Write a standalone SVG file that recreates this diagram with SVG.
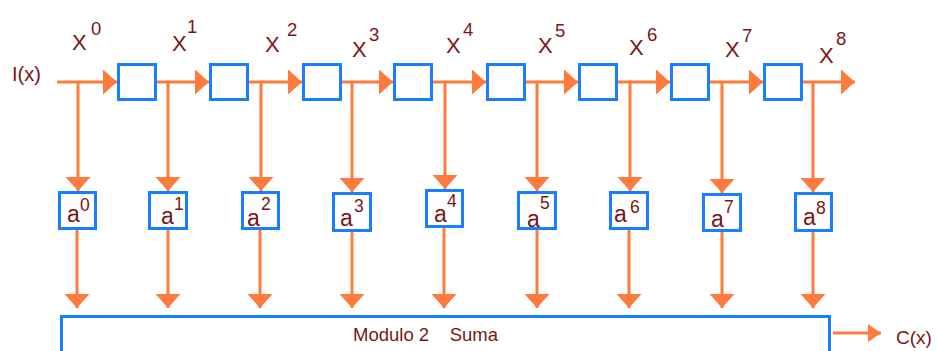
<svg xmlns="http://www.w3.org/2000/svg" width="937" height="351" viewBox="0 0 937 351">
<style>
.bx{fill:#fff;stroke:#1A7FFF;stroke-width:3}
.ln{stroke:#FF7A3D;stroke-width:3;fill:none}
.ar{marker-end:url(#ah)}
.t{font-family:"Liberation Sans",Arial,sans-serif;fill:#7A1616}
.X{font-size:22px}
.s{font-size:18.5px}
.a{font-size:23px}
.sa{font-size:17.5px}
</style>
<defs>
<marker id="ah" markerUnits="userSpaceOnUse" markerWidth="14" markerHeight="25" refX="14" refY="12.5" orient="auto">
<path d="M0,0 L14,12.5 L0,25 Z" fill="#FF7A3D"/>
</marker>
<marker id="ah2" markerUnits="userSpaceOnUse" markerWidth="13" markerHeight="18" refX="13" refY="9" orient="auto">
<path d="M0,0 L13,9 L0,18 Z" fill="#FF7A3D"/>
</marker>
</defs>
<rect width="937" height="351" fill="#fff"/>
<g id="connectors">
<line class="ln ar" x1="57" y1="82" x2="117" y2="82"/>
<line class="ln ar" x1="157" y1="82" x2="209" y2="82"/>
<line class="ln ar" x1="249" y1="82" x2="302" y2="82"/>
<line class="ln ar" x1="342" y1="82" x2="393" y2="82"/>
<line class="ln ar" x1="433" y1="82" x2="486" y2="82"/>
<line class="ln ar" x1="525" y1="82" x2="578" y2="82"/>
<line class="ln ar" x1="618" y1="82" x2="670" y2="82"/>
<line class="ln ar" x1="710" y1="82" x2="763" y2="82"/>
<line class="ln ar" x1="802" y1="82" x2="855" y2="82"/>
<line class="ln ar" x1="78" y1="82" x2="78" y2="191"/>
<line class="ln ar" x1="168" y1="82" x2="168" y2="191"/>
<line class="ln ar" x1="261" y1="82" x2="261" y2="191"/>
<line class="ln ar" x1="352" y1="82" x2="352" y2="192"/>
<line class="ln ar" x1="445" y1="82" x2="445" y2="189"/>
<line class="ln ar" x1="537" y1="82" x2="537" y2="191"/>
<line class="ln ar" x1="630" y1="82" x2="630" y2="191"/>
<line class="ln ar" x1="722" y1="82" x2="722" y2="193"/>
<line class="ln ar" x1="813" y1="82" x2="813" y2="192"/>
<line class="ln ar" x1="77" y1="230" x2="77" y2="308"/>
<line class="ln ar" x1="168" y1="230" x2="168" y2="308"/>
<line class="ln ar" x1="260" y1="230" x2="260" y2="308"/>
<line class="ln ar" x1="352" y1="232" x2="352" y2="308"/>
<line class="ln ar" x1="444" y1="228" x2="444" y2="308"/>
<line class="ln ar" x1="537" y1="230" x2="537" y2="308"/>
<line class="ln ar" x1="629" y1="230" x2="629" y2="308"/>
<line class="ln ar" x1="722" y1="232" x2="722" y2="308"/>
<line class="ln ar" x1="813" y1="232" x2="813" y2="308"/>
<line class="ln" x1="833" y1="333" x2="881" y2="333" marker-end="url(#ah2)"/>
</g>
<g id="input"><text class="t" x="12" y="81" font-size="20">I(x)</text></g>
<g id="r1"><rect class="bx" x="118.5" y="64.5" width="37" height="35"/></g>
<g id="r2"><rect class="bx" x="210.5" y="64.5" width="37" height="35"/></g>
<g id="r3"><rect class="bx" x="303.5" y="64.5" width="37" height="35"/></g>
<g id="r4"><rect class="bx" x="394.5" y="64.5" width="37" height="35"/></g>
<g id="r5"><rect class="bx" x="487.5" y="64.5" width="37" height="35"/></g>
<g id="r6"><rect class="bx" x="579.5" y="64.5" width="37" height="35"/></g>
<g id="r7"><rect class="bx" x="671.5" y="64.5" width="37" height="35"/></g>
<g id="r8"><rect class="bx" x="764.5" y="64.5" width="37" height="35"/></g>
<g id="taps">
<text class="t X" x="72" y="50">X<tspan class="s" x="91" y="35">0</tspan></text>
<text class="t X" x="172" y="51">X<tspan class="s" x="187" y="33">1</tspan></text>
<text class="t X" x="265" y="52">X<tspan class="s" x="287" y="36">2</tspan></text>
<text class="t X" x="352" y="57">X<tspan class="s" x="369" y="41">3</tspan></text>
<text class="t X" x="446" y="53">X<tspan class="s" x="463" y="36">4</tspan></text>
<text class="t X" x="538" y="53">X<tspan class="s" x="555" y="37">5</tspan></text>
<text class="t X" x="629" y="55">X<tspan class="s" x="647" y="41">6</tspan></text>
<text class="t X" x="725" y="57">X<tspan class="s" x="742" y="42">7</tspan></text>
<text class="t X" x="819" y="63">X<tspan class="s" x="836" y="45">8</tspan></text>
</g>
<g id="a0"><rect class="bx" x="59.5" y="192.5" width="36" height="36"/><text class="t a" x="67" y="222">a<tspan class="sa" x="80" y="211">0</tspan></text></g>
<g id="a1"><rect class="bx" x="149.5" y="192.5" width="37" height="36"/><text class="t a" x="161" y="224">a<tspan class="sa" x="174" y="210">1</tspan></text></g>
<g id="a2"><rect class="bx" x="242.5" y="192.5" width="36" height="36"/><text class="t a" x="247" y="226">a<tspan class="sa" x="261" y="210">2</tspan></text></g>
<g id="a3"><rect class="bx" x="333.5" y="193.5" width="37" height="37"/><text class="t a" x="340" y="226">a<tspan class="sa" x="354" y="212">3</tspan></text></g>
<g id="a4"><rect class="bx" x="426.5" y="190.5" width="36" height="36"/><text class="t a" x="434" y="222">a<tspan class="sa" x="447" y="207">4</tspan></text></g>
<g id="a5"><rect class="bx" x="518.5" y="192.5" width="37" height="36"/><text class="t a" x="527" y="227">a<tspan class="sa" x="540" y="209">5</tspan></text></g>
<g id="a6"><rect class="bx" x="610.5" y="192.5" width="37" height="36"/><text class="t a" x="614" y="222">a<tspan class="sa" x="630" y="213">6</tspan></text></g>
<g id="a7"><rect class="bx" x="703.5" y="194.5" width="37" height="36"/><text class="t a" x="711" y="227">a<tspan class="sa" x="724" y="213">7</tspan></text></g>
<g id="a8"><rect class="bx" x="795.5" y="193.5" width="36" height="37"/><text class="t a" x="803" y="225">a<tspan class="sa" x="816" y="214">8</tspan></text></g>
<g id="sum"><rect class="bx" x="61.5" y="316.5" width="768" height="50"/><text class="t" x="353" y="341" font-size="18.5" xml:space="preserve" style="white-space:pre">Modulo 2    Suma</text></g>
<g id="output"><text class="t" x="896" y="344" font-size="19">C(x)</text></g>
</svg>
